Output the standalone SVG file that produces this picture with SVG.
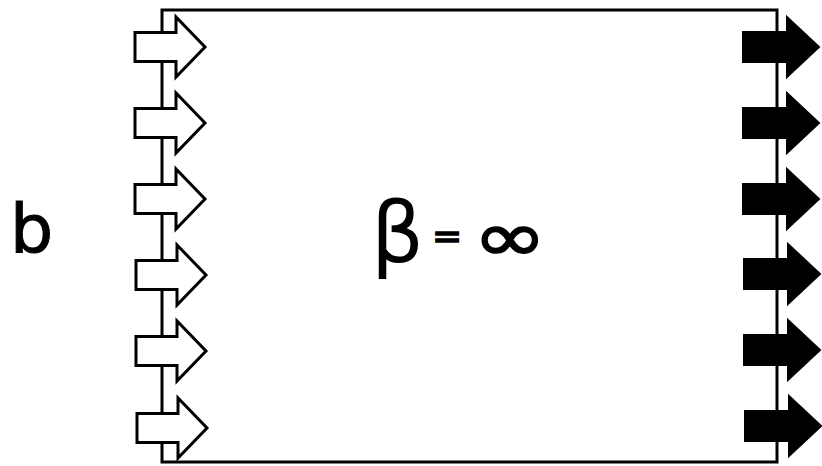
<svg xmlns="http://www.w3.org/2000/svg" width="822" height="466" viewBox="0 0 822 466">
<style>
.box{fill:#fff;stroke:#000;stroke-width:3}
.in{fill:#fff;stroke:#000;stroke-width:3;stroke-linejoin:miter}
.out{fill:#000;stroke:#000;stroke-width:2}
.t{font-family:"DejaVu Sans","Liberation Sans",sans-serif;fill:#000}
.f{stroke:#000;stroke-width:1.5}
</style>
<defs>
<path id="ain" d="M0,-14.5 H41 V-30 L70,0 L41,30 V14.5 H0 Z"/>
<path id="aout" d="M0,-15 H44 V-30 L76,0 L44,30 V15 H0 Z"/>
</defs>
<g id="box"><rect class="box" x="162" y="10" width="615" height="452"/></g>
<g id="inputs">
<use href="#ain" class="in" x="135" y="47"/>
<use href="#ain" class="in" x="135" y="123"/>
<use href="#ain" class="in" x="135" y="199"/>
<use href="#ain" class="in" x="136" y="275"/>
<use href="#ain" class="in" x="136" y="351"/>
<use href="#ain" class="in" x="137" y="428"/>
</g>
<g id="outputs">
<use href="#aout" class="out" x="743" y="47"/>
<use href="#aout" class="out" x="743" y="123"/>
<use href="#aout" class="out" x="743" y="199"/>
<use href="#aout" class="out" x="744" y="274"/>
<use href="#aout" class="out" x="744" y="350"/>
<use href="#aout" class="out" x="745" y="426"/>
</g>
<g id="label-b"><text class="t f" x="10" y="253" font-size="68" style="stroke-width:1">b</text></g>
<g id="formula">
<text class="t" x="371" y="262" font-size="83">β</text>
<text class="t f" x="432" y="248" font-size="36">=</text>
<text class="t f" transform="translate(473,261) scale(1.3,1.03)" x="0" y="0" font-size="68">∞</text>
</g>
</svg>
